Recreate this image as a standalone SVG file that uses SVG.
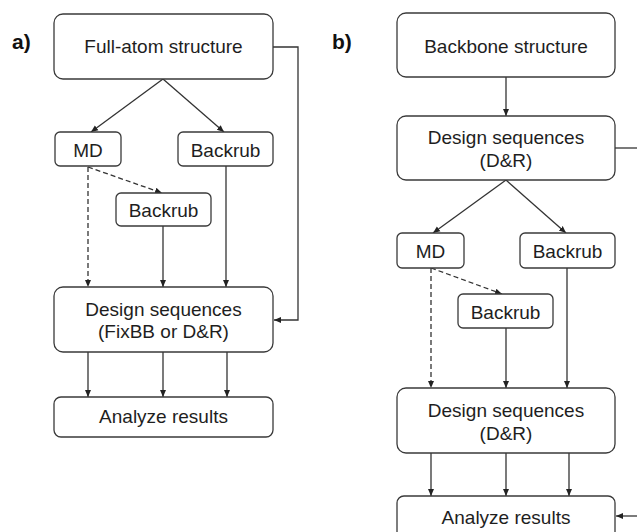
<svg xmlns="http://www.w3.org/2000/svg" width="637" height="532" viewBox="0 0 637 532">
<style>
.box{fill:#fff;stroke:#3a3a3a;stroke-width:1.3}
.t{font-family:"Liberation Sans",Arial,sans-serif;font-size:19px;fill:#1e1e1e;text-anchor:middle}
.lbl{font-family:"Liberation Sans",Arial,sans-serif;font-size:21px;font-weight:bold;fill:#111}
.c{fill:none;stroke:#333;stroke-width:1.3}
.d{stroke-dasharray:5,3}
</style>
<defs>
<marker id="ah" markerUnits="userSpaceOnUse" markerWidth="8" markerHeight="8" refX="7" refY="4" orient="auto">
<path d="M0,1 L7,4 L0,7 Z" fill="#222"/>
</marker>
</defs>
<rect width="637" height="532" fill="#fff"/>
<text class="lbl" x="12" y="49">a)</text>
<text class="lbl" x="332" y="49">b)</text>
<g id="connectors">
<path class="c" d="M163,79 L91,132" marker-end="url(#ah)"/>
<path class="c" d="M163,79 L224,132" marker-end="url(#ah)"/>
<path class="c" d="M273,47 H298 V320 H274" marker-end="url(#ah)"/>
<path class="c d" d="M88,167 V287" marker-end="url(#ah)"/>
<path class="c d" d="M88,167 L162,193" marker-end="url(#ah)"/>
<path class="c" d="M163,226 V287" marker-end="url(#ah)"/>
<path class="c" d="M226,166 V287" marker-end="url(#ah)"/>
<path class="c" d="M88,352 V397" marker-end="url(#ah)"/>
<path class="c" d="M163,352 V397" marker-end="url(#ah)"/>
<path class="c" d="M227,352 V397" marker-end="url(#ah)"/>
<path class="c" d="M506,77 V116" marker-end="url(#ah)"/>
<path class="c" d="M615,148 H637"/>
<path class="c" d="M506,180 L433,233" marker-end="url(#ah)"/>
<path class="c" d="M506,180 L566,233" marker-end="url(#ah)"/>
<path class="c d" d="M431,268 L502,294" marker-end="url(#ah)"/>
<path class="c d" d="M431,268 V388" marker-end="url(#ah)"/>
<path class="c" d="M506,328 V388" marker-end="url(#ah)"/>
<path class="c" d="M567,268 V388" marker-end="url(#ah)"/>
<path class="c" d="M431,453 V496" marker-end="url(#ah)"/>
<path class="c" d="M506,453 V496" marker-end="url(#ah)"/>
<path class="c" d="M569,453 V496" marker-end="url(#ah)"/>
<path class="c" d="M637,516 H616" marker-end="url(#ah)"/>
</g>
<g id="a-full-atom"><rect class="box" x="54" y="14" width="219" height="65" rx="9"/><text class="t" x="163.5" y="53">Full-atom structure</text></g>
<g id="a-md"><rect class="box" x="55" y="132" width="66" height="34" rx="5"/><text class="t" x="88" y="157">MD</text></g>
<g id="a-backrub1"><rect class="box" x="178" y="132" width="95" height="34" rx="5"/><text class="t" x="225.5" y="157">Backrub</text></g>
<g id="a-backrub2"><rect class="box" x="116" y="193" width="95" height="33" rx="5"/><text class="t" x="163.5" y="217">Backrub</text></g>
<g id="a-design"><rect class="box" x="54" y="287" width="219" height="65" rx="9"/><text class="t" x="163.5" y="316">Design sequences</text><text class="t" x="163.5" y="338">(FixBB or D&amp;R)</text></g>
<g id="a-analyze"><rect class="box" x="54" y="397" width="219" height="40" rx="7"/><text class="t" x="163.5" y="423">Analyze results</text></g>
<g id="b-backbone"><rect class="box" x="397" y="13" width="218" height="64" rx="9"/><text class="t" x="506" y="53">Backbone structure</text></g>
<g id="b-design1"><rect class="box" x="397" y="116" width="218" height="64" rx="9"/><text class="t" x="506" y="144">Design sequences</text><text class="t" x="506" y="167">(D&amp;R)</text></g>
<g id="b-md"><rect class="box" x="397" y="233" width="67" height="35" rx="5"/><text class="t" x="430.5" y="258">MD</text></g>
<g id="b-backrub1"><rect class="box" x="520" y="233" width="95" height="35" rx="5"/><text class="t" x="567.5" y="258">Backrub</text></g>
<g id="b-backrub2"><rect class="box" x="458" y="294" width="95" height="34" rx="5"/><text class="t" x="505.5" y="319">Backrub</text></g>
<g id="b-design2"><rect class="box" x="397" y="388" width="218" height="65" rx="9"/><text class="t" x="506" y="417">Design sequences</text><text class="t" x="506" y="440">(D&amp;R)</text></g>
<g id="b-analyze"><rect class="box" x="397" y="496" width="218" height="45" rx="7"/><text class="t" x="506" y="524">Analyze results</text></g>
</svg>
